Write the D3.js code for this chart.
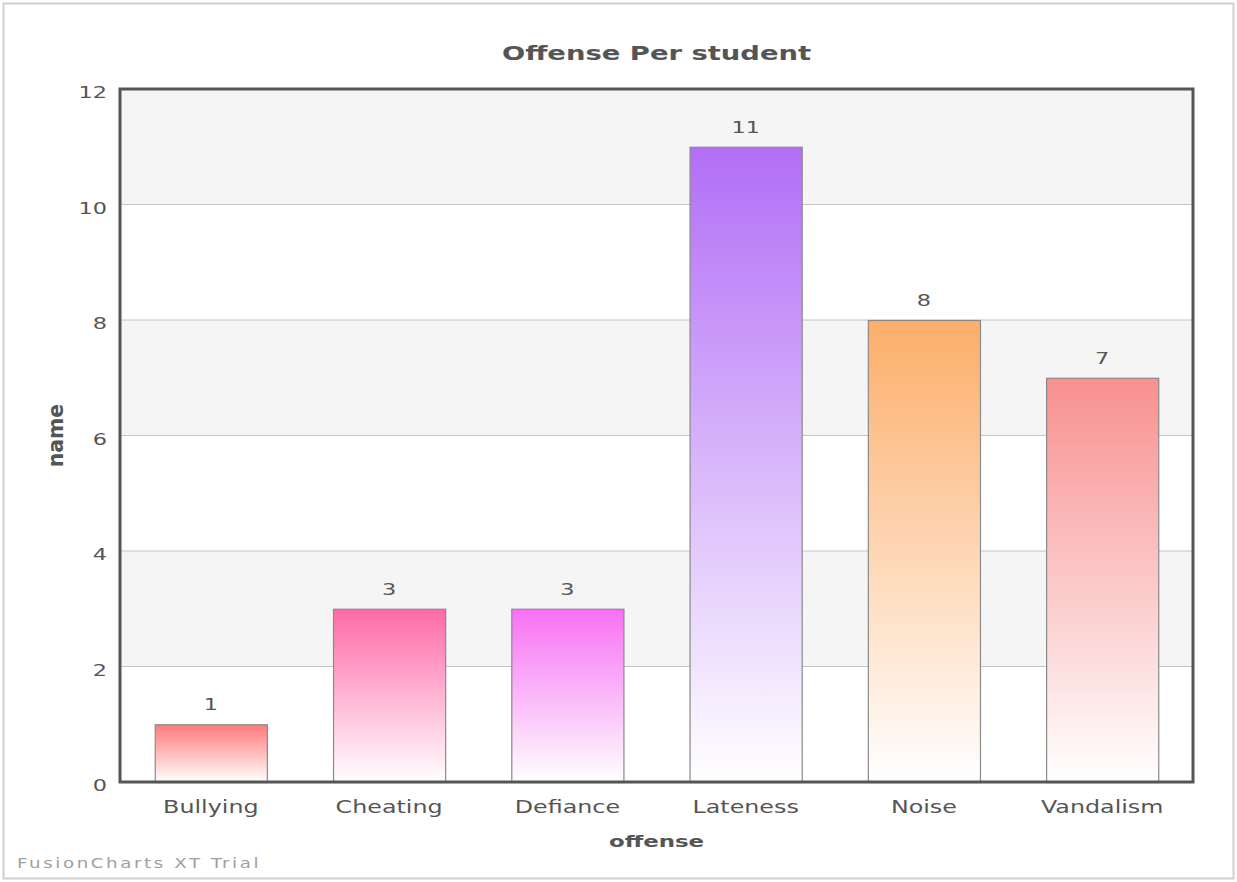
<!DOCTYPE html>
<html><head><meta charset="utf-8">
<script src="https://cdn.jsdelivr.net/npm/d3@7"></script>
<style>body{margin:0;background:#fff;font-family:"DejaVu Sans",Verdana,sans-serif;}</style>
</head><body>
<svg id="c" width="1237" height="882"></svg>
<script>
const categories = ["Bullying","Cheating","Defiance","Lateness","Noise","Vandalism"];
const values = [1,3,3,11,8,7];
const colors = ["#ff7a7a","#ff6aa8","#f870f4","#b26ef6","#fcae6a","#f89090"];
const yTicks = [0,2,4,6,8,10,12];

const svg = d3.select("#c");
const W = 1237, H = 882;
const m = {l:120, t:89, r:1193, b:782};
const SX = 1.4; // horizontal stretch of text glyphs

function stext(parent, x, y, str, opts){
  const o = Object.assign({size:16, weight:"normal", fill:"#555", anchor:"middle", sx:SX, sy:1, rot:0, ls:0}, opts||{});
  const g = parent.append("g").attr("transform",`translate(${x},${y}) rotate(${o.rot}) scale(${o.sx},${o.sy})`);
  g.append("text").attr("text-anchor",o.anchor).attr("font-size",o.size).attr("font-weight",o.weight)
    .attr("fill",o.fill).attr("letter-spacing",o.ls).attr("font-family","DejaVu Sans").text(str);
  return g;
}

svg.append("rect").attr("x",3.5).attr("y",3.5).attr("width",W-7).attr("height",H-7)
  .attr("fill","#fff").attr("stroke","#cfcfcf").attr("stroke-width",2);

const x = d3.scaleBand().domain(categories).range([m.l,m.r]).paddingInner(0.371).paddingOuter(0.195);
const y = d3.scaleLinear().domain([0,12]).range([m.b,m.t]);

// alternating bands
const g = svg.append("g");
for (let i=0;i<yTicks.length-1;i++){
  if (i%2===1) g.append("rect").attr("x",m.l).attr("width",m.r-m.l)
    .attr("y",y(yTicks[i+1])).attr("height",y(yTicks[i])-y(yTicks[i+1])).attr("fill","#f5f5f5");
}
// gridlines
g.selectAll("line.grid").data(yTicks.slice(1,-1)).enter().append("line")
  .attr("x1",m.l).attr("x2",m.r).attr("y1",d=>y(d)).attr("y2",d=>y(d))
  .attr("stroke","#c4c4c4").attr("stroke-width",1);

// gradients
const defs = svg.append("defs");
colors.forEach((c,i)=>{
  const gr = defs.append("linearGradient").attr("id","g"+i).attr("x1",0).attr("x2",0).attr("y1",0).attr("y2",1);
  gr.append("stop").attr("offset","0%").attr("stop-color",c);
  gr.append("stop").attr("offset","100%").attr("stop-color","#ffffff");
});

// bars
svg.selectAll("rect.bar").data(values).enter().append("rect")
  .attr("x",(d,i)=>x(categories[i])+0.5).attr("width",x.bandwidth())
  .attr("y",d=>y(d)+0.5).attr("height",d=>y(0)-y(d))
  .attr("fill",(d,i)=>`url(#g${i})`).attr("stroke","#8a8a8a").attr("stroke-width",1.2);

// value labels
values.forEach((d,i)=>{
  stext(svg, x(categories[i])+x.bandwidth()/2, y(d)-14, String(d), {size:16});
});

// frame
svg.append("rect").attr("x",m.l).attr("y",m.t).attr("width",m.r-m.l).attr("height",m.b-m.t)
  .attr("fill","none").attr("stroke","#555").attr("stroke-width",3);

// axes (D3 scales/axes; labels restyled with horizontal stretch)
const yAxis = d3.axisLeft(y).tickValues(yTicks).tickSize(0).tickPadding(14);
const ya = svg.append("g").attr("transform",`translate(${m.l},0)`).call(yAxis);
ya.select(".domain").remove();
ya.selectAll(".tick text").each(function(d){
  const t = d3.select(this);
  t.attr("font-size",16).attr("fill","#555").attr("font-family","DejaVu Sans")
   .attr("x",-13/SX).attr("dy","0.55em").attr("transform",`scale(${SX},1)`);
});

const xAxis = d3.axisBottom(x).tickSize(0).tickPadding(0);
const xa = svg.append("g").attr("transform",`translate(0,${m.b})`).call(xAxis);
xa.select(".domain").remove();
xa.selectAll(".tick text").attr("font-size",17).attr("fill","#555").attr("font-family","DejaVu Sans")
  .attr("y",31).attr("dy",0).attr("transform",`scale(${SX},1)`);

// titles
stext(svg, (m.l+m.r)/2, 60, "Offense Per student", {size:20, weight:"bold", sx:1.37});
stext(svg, (m.l+m.r)/2, 847, "offense", {size:16, weight:"bold", sx:1.43});
stext(svg, 63, (m.t+m.b)/2, "name", {size:17, weight:"bold", rot:-90, sx:1.2, sy:1.25});
stext(svg, 17, 868, "FusionCharts XT Trial", {size:14, fill:"#a0a0a0", anchor:"start", sx:1.3, ls:2});
</script>
</body></html>
